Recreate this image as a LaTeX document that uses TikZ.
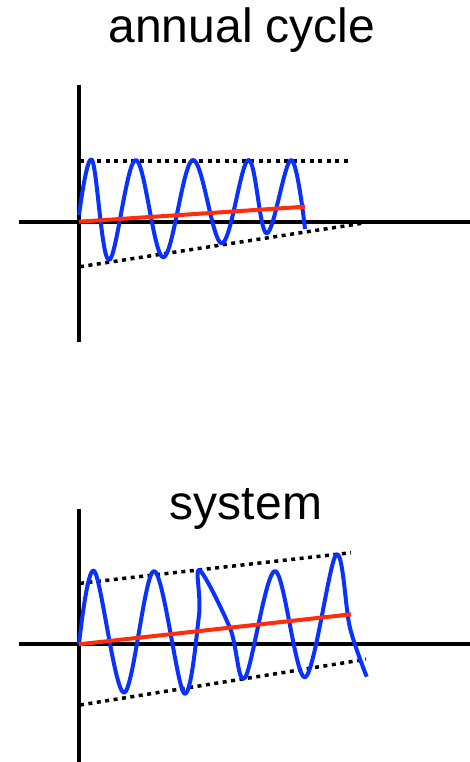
\documentclass[tikz,border=0pt]{standalone}
\usepackage{fontspec}
\setmainfont{Liberation Sans}
\begin{document}
\begin{tikzpicture}[x=1pt,y=-1pt,
  axis/.style={line width=4.3pt},
  bound/.style={line width=3.5pt, dash pattern=on 4pt off 4.5pt},
  trendline/.style={line width=4pt, color=trendred},
  signal/.style={line width=4pt, color=sigblue, line join=round},
  titletext/.style={font=\fontsize{48}{56}\selectfont, inner sep=0pt}]
\definecolor{trendred}{RGB}{255,45,10}
\definecolor{sigblue}{RGB}{10,50,255}
\useasboundingbox (0,0) rectangle (470,762);
% top panel
\node[titletext] (t1) at (242,30) {annual cycle};
\draw[axis] (79,85) -- (79,342);
\draw[axis] (19,222) -- (470,222);
\draw[bound] (80,161) -- (351,161);
\draw[bound] (80,266.7) -- (366,222.7);
\draw[signal] plot[smooth, tension=0.6] coordinates {(79,215) (92,160) (109,260) (135.7,160) (163.3,257.3) (192.7,160) (221.7,243.3) (248.3,160) (266.7,233.3) (291,160) (305,229)};
\draw[trendline] (79,221.7) -- (305,206.7);
% bottom panel
\node[titletext] (t2) at (246,509) {system};
\draw[axis] (79,509) -- (79,762);
\draw[axis] (19,644.3) -- (470,644.3);
\draw[bound] (80,583.3) -- (351,552.7);
\draw[bound] (80,705) -- (366,659.3);
\draw[signal] plot[smooth, tension=0.55] coordinates {(79,644) (94.3,571) (124,692.7) (154,571) (184,693.3) (199,615) (199.3,570) (230,628) (245,677.7) (275,571) (305,677.3) (336,555) (350,628) (366.7,676.7)};
\draw[trendline] (79,644.3) -- (351,614.3);
\end{tikzpicture}
\end{document}
